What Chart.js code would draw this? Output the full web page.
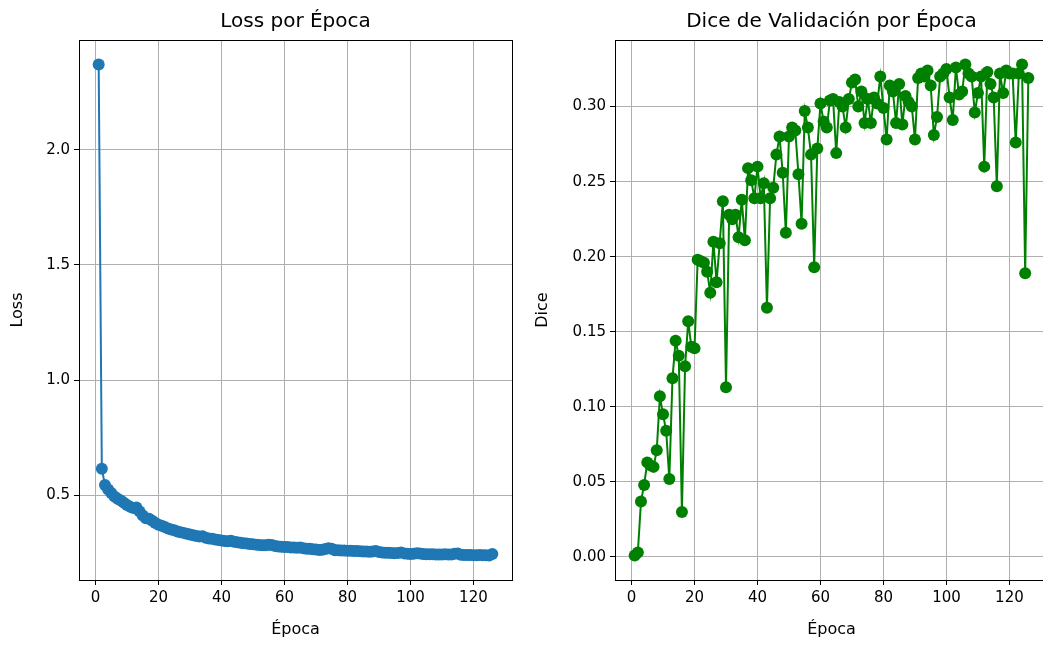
<!DOCTYPE html>
<html lang="es">
<head>
<meta charset="utf-8">
<title>Entrenamiento</title>
<script src="https://cdn.jsdelivr.net/npm/chart.js@4.4.1/dist/chart.umd.min.js"></script>
<style>
    html, body { margin: 0; padding: 0; background: #fff; overflow: hidden; }
    body { width: 1043px; height: 646px; position: relative; }
    #lossChart { position: absolute; left: 0; top: 0; }
    #diceChart { position: absolute; left: 520px; top: 0; }
</style>
</head>
<body>
<canvas id="lossChart" width="520" height="646"></canvas>
<canvas id="diceChart" width="540" height="646"></canvas>
<script>
// --- datos ---
const epochs = Array.from({ length: 126 }, (_, i) => i + 1);

const lossValues = [
    2.370, 0.615, 0.545, 0.525, 0.510, 0.495, 0.485, 0.478, 0.468, 0.458,
    0.450, 0.445, 0.447, 0.430, 0.412, 0.400, 0.398, 0.390, 0.380, 0.372,
    0.368, 0.362, 0.356, 0.352, 0.348, 0.343, 0.340, 0.337, 0.333, 0.330,
    0.327, 0.323, 0.321, 0.322, 0.316, 0.313, 0.312, 0.308, 0.306, 0.304,
    0.302, 0.301, 0.303, 0.299, 0.296, 0.294, 0.292, 0.291, 0.289, 0.288,
    0.286, 0.284, 0.283, 0.283, 0.285, 0.284, 0.280, 0.278, 0.277, 0.276,
    0.276, 0.274, 0.273, 0.272, 0.273, 0.270, 0.268, 0.268, 0.266, 0.265,
    0.263, 0.264, 0.267, 0.270, 0.268, 0.262, 0.262, 0.261, 0.260, 0.259,
    0.259, 0.258, 0.258, 0.257, 0.256, 0.256, 0.255, 0.256, 0.258, 0.254,
    0.252, 0.251, 0.251, 0.250, 0.249, 0.250, 0.252, 0.248, 0.246, 0.245,
    0.246, 0.249, 0.247, 0.245, 0.244, 0.244, 0.244, 0.243, 0.243, 0.243,
    0.244, 0.243, 0.243, 0.246, 0.247, 0.242, 0.241, 0.241, 0.241, 0.240,
    0.240, 0.241, 0.240, 0.240, 0.239, 0.245
];

const diceValues = [
    0.001, 0.003, 0.037, 0.048, 0.063, 0.061, 0.060, 0.071, 0.107, 0.095,
    0.084, 0.052, 0.119, 0.144, 0.134, 0.030, 0.127, 0.157, 0.140, 0.139,
    0.198, 0.197, 0.196, 0.190, 0.176, 0.210, 0.183, 0.209, 0.237, 0.113,
    0.228, 0.225, 0.228, 0.213, 0.238, 0.211, 0.259, 0.251, 0.239, 0.260,
    0.239, 0.249, 0.166, 0.239, 0.246, 0.268, 0.280, 0.256, 0.216, 0.280,
    0.286, 0.284, 0.255, 0.222, 0.297, 0.286, 0.268, 0.193, 0.272, 0.302,
    0.290, 0.286, 0.304, 0.305, 0.269, 0.303, 0.300, 0.286, 0.305, 0.316,
    0.318, 0.300, 0.310, 0.289, 0.305, 0.289, 0.306, 0.302, 0.320, 0.299,
    0.278, 0.314, 0.310, 0.289, 0.315, 0.288, 0.307, 0.303, 0.300, 0.278,
    0.319, 0.322, 0.320, 0.324, 0.314, 0.281, 0.293, 0.320, 0.322, 0.325,
    0.306, 0.291, 0.326, 0.308, 0.310, 0.328, 0.322, 0.320, 0.296, 0.309,
    0.320, 0.260, 0.323, 0.315, 0.306, 0.247, 0.322, 0.309, 0.324, 0.322,
    0.322, 0.276, 0.322, 0.328, 0.189, 0.319
];

const xTicks = [0, 20, 40, 60, 80, 100, 120];
const lossTicks = [0.5, 1.0, 1.5, 2.0];
const diceTicks = [0.00, 0.05, 0.10, 0.15, 0.20, 0.25, 0.30];

// --- utilidades ---
const FONT = "'DejaVu Sans', sans-serif";

// rango con 5% de margen a cada lado
function padRange(vals) {
    const lo = Math.min(...vals), hi = Math.max(...vals);
    const m = (hi - lo) * 0.05;
    return [lo - m, hi + m];
}

const fixedTicks = values => scale => { scale.ticks = values.map(v => ({ value: v })); };

// marco completo alrededor del área de trazado
const frame = {
    id: 'frame',
    afterDraw(chart) {
        const { ctx, chartArea: a } = chart;
        ctx.save();
        ctx.strokeStyle = '#000';
        ctx.lineWidth = 1;
        ctx.strokeRect(a.left + 0.5, a.top + 0.5, a.right - a.left, a.bottom - a.top);
        ctx.restore();
    }
};

const gridOpts = { color: '#b0b0b0', lineWidth: 1, tickColor: '#000', tickLength: 5, tickWidth: 1 };
const tickFont = { family: FONT, size: 15 };
const labelFont = { family: FONT, size: 16, lineHeight: 1.2 };

function makeChart(id, cfg) {
    const [xMin, xMax] = padRange(epochs);
    const [yMin, yMax] = padRange(cfg.values);
    return new Chart(document.getElementById(id), {
        type: 'line',
        data: {
            datasets: [{
                data: epochs.map((e, i) => ({ x: e, y: cfg.values[i] })),
                borderColor: cfg.color,
                backgroundColor: cfg.color,
                pointBackgroundColor: cfg.color,
                pointBorderWidth: 0,
                pointRadius: 6,
                borderWidth: 2,
                tension: 0
            }]
        },
        options: {
            responsive: false,
            animation: false,
            devicePixelRatio: 1,
            layout: { padding: { left: 0, right: cfg.padRight, top: 0, bottom: 0 } },
            plugins: {
                legend: { display: false },
                tooltip: { enabled: false },
                title: {
                    display: true,
                    text: cfg.title,
                    fullSize: false,
                    color: '#000',
                    font: { family: FONT, size: 20, weight: 'normal', lineHeight: 1.2 },
                    padding: { top: 10, bottom: 6 }
                }
            },
            scales: {
                x: {
                    type: 'linear',
                    min: xMin, max: xMax,
                    afterBuildTicks: fixedTicks(xTicks),
                    afterFit: s => { s.height = 66; },
                    grid: gridOpts,
                    border: { display: false },
                    ticks: { color: '#000', font: tickFont, padding: 4, maxRotation: 0, autoSkip: false },
                    title: {
                        display: true, text: 'Época', color: '#000',
                        font: labelFont,
                        padding: { top: 0, bottom: 6.4 }
                    }
                },
                y: {
                    type: 'linear',
                    min: yMin, max: yMax,
                    afterBuildTicks: fixedTicks(cfg.yTicks),
                    afterFit: s => { s.width = cfg.yWidth; },
                    grid: gridOpts,
                    border: { display: false },
                    ticks: {
                        color: '#000', font: tickFont, padding: 4, autoSkip: false,
                        callback: v => v.toFixed(cfg.decimals)
                    },
                    title: {
                        display: true, text: cfg.yLabel, color: '#000',
                        font: labelFont,
                        padding: { top: cfg.yTitlePad, bottom: 0 }
                    }
                }
            }
        },
        plugins: [frame]
    });
}

makeChart('lossChart', {
    values: lossValues,
    color: '#1f77b4',
    title: 'Loss por Época',
    yLabel: 'Loss',
    yTicks: lossTicks,
    decimals: 1,
    yWidth: 79,
    yTitlePad: 8.4,
    padRight: 8
});

makeChart('diceChart', {
    values: diceValues,
    color: '#008000',
    title: 'Dice de Validación por Época',
    yLabel: 'Dice',
    yTicks: diceTicks,
    decimals: 2,
    yWidth: 95,
    yTitlePad: 13.4,
    padRight: 12
});
</script>
</body>
</html>
